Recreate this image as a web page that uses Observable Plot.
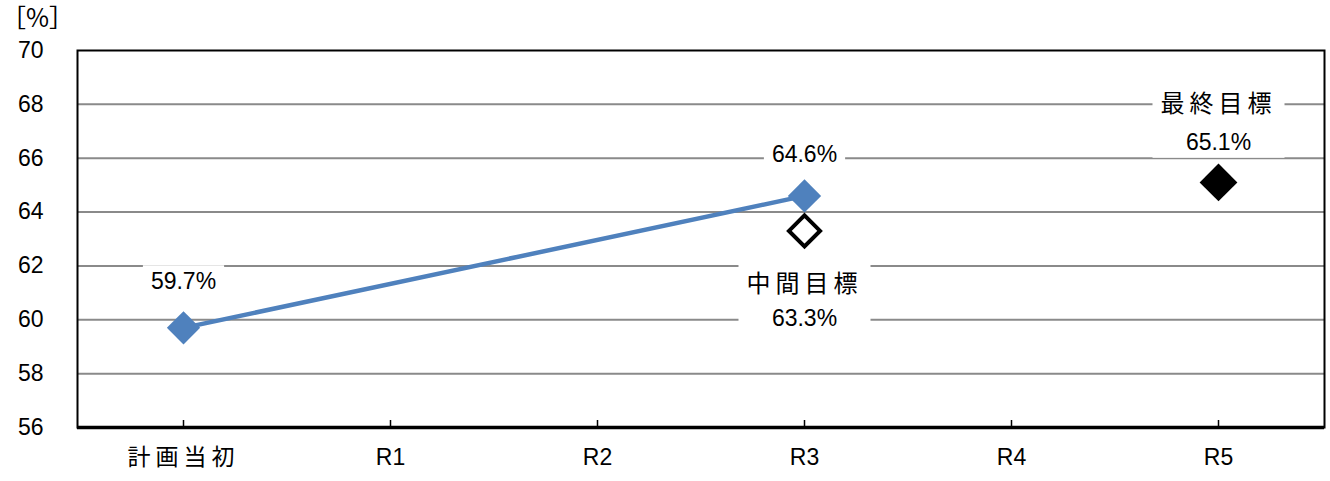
<!DOCTYPE html>
<html><head><meta charset="utf-8">
<script src="https://cdn.jsdelivr.net/npm/d3@7"></script>
<script src="https://cdn.jsdelivr.net/npm/@observablehq/plot@0.6"></script>
<style>
html,body{margin:0;padding:0;background:#fff;}
</style></head><body><div id="chart"></div>
<script>
// ---- data ----
const categories = ["計画当初", "R1", "R2", "R3", "R4", "R5"];
const actualCats = ["計画当初", "R3"];
const actualValues = [59.7, 64.6];
const midCats = ["R3"];
const midValues = [63.3];
const midName = "中間目標";
const finalCats = ["R5"];
const finalValues = [65.1];
const finalName = "最終目標";
const yTicks = [56, 58, 60, 62, 64, 66, 68, 70];
const gridValues = [58, 60, 62, 64, 66, 68];
const unitLabel = "［%］";

const actual = actualCats.map((c, i) => ({cat: c, value: actualValues[i]}));
const mid = midCats.map((c, i) => ({cat: c, value: midValues[i]}));
const fin = finalCats.map((c, i) => ({cat: c, value: finalValues[i]}));
const fmt = v => d3.format(".1f")(v) + "%";

const latin = "'Liberation Sans', Arial, 'Noto Sans CJK JP', sans-serif";
const cjk = "'Noto Sans CJK JP', sans-serif";
const blue = "#4F81BD";

const chart = Plot.plot({
  width: 1330, height: 481,
  marginLeft: 77, marginRight: 6, marginTop: 50, marginBottom: 54,
  x: {type: "point", domain: categories, padding: 0.5, label: null},
  y: {domain: [56, 70], label: null},
  style: {fontFamily: latin, fontSize: "23px", color: "#000", background: "#fff", overflow: "visible"},
  marks: [
    Plot.ruleY(gridValues, {stroke: "#8a8a8a", strokeWidth: 2}),
    Plot.frame({stroke: "#000", strokeWidth: 2}),
    Plot.ruleY([56], {stroke: "#000", strokeWidth: 3.5}),
    Plot.ruleX(categories, {y1: 56, y2: 56.26, stroke: "#000", strokeWidth: 1.5}),
    Plot.axisY(yTicks, {tickSize: 0, tickPadding: 34, fontSize: 23, label: null}),
    Plot.axisX(categories, {tickSize: 0, tickPadding: 21, fontSize: 23, label: null}),
    Plot.text([unitLabel], {text: d => d, frameAnchor: "top-left", lineAnchor: "middle", dx: -40, dy: -32, fontSize: 25, fontFamily: cjk, textAnchor: "middle"}),
    Plot.line(actual, {x: "cat", y: "value", stroke: blue, strokeWidth: 4.5}),
    Plot.dot(actual, {x: "cat", y: "value", symbol: "diamond2", r: 15, fill: blue, stroke: "none"}),
    Plot.dot(mid, {x: "cat", y: "value", symbol: "diamond2", r: 14, fill: "#fff", stroke: "#000", strokeWidth: 4}),
    Plot.dot(fin, {x: "cat", y: "value", symbol: "diamond2", r: 17, fill: "#000", stroke: "none"}),
    Plot.text([actual[0]], {x: "cat", y: "value", text: d => fmt(d.value), dy: -46, fontSize: 23}),
    Plot.text([actual[1]], {x: "cat", y: "value", text: d => fmt(d.value), dy: -41, fontSize: 23}),
    Plot.text(mid, {x: "cat", y: "value", text: () => midName, dy: 53, fontSize: 24, fontFamily: cjk}),
    Plot.text(mid, {x: "cat", y: "value", text: d => fmt(d.value), dy: 88, fontSize: 23}),
    Plot.text(fin, {x: "cat", y: "value", text: () => finalName, dy: -78, fontSize: 24, fontFamily: cjk}),
    Plot.text(fin, {x: "cat", y: "value", text: d => fmt(d.value), dy: -40, fontSize: 23})
  ]
});
document.getElementById("chart").append(chart);

// letter spacing for kanji labels
chart.querySelectorAll("text").forEach(t => {
  if (/[\u4e00-\u9fff]/.test(t.textContent)) t.style.letterSpacing = "5px";
});

// white boxes behind data labels (derived from the rendered label texts)
const labelGroups = [
  [fmt(actualValues[0])],
  [fmt(actualValues[1])],
  [midName, fmt(midValues[0])],
  [finalName, fmt(finalValues[0])]
];
const sr = chart.getBoundingClientRect();
const allTexts = Array.from(chart.querySelectorAll("text"));
let firstG = null;
const used = new Set();
const rects = [];
labelGroups.forEach(group => {
  const b = {x0: Infinity, y0: Infinity, x1: -Infinity, y1: -Infinity};
  group.forEach(s => {
    const t = allTexts.find(e => e.textContent === s && !used.has(e));
    if (!t) return;
    used.add(t);
    if (!firstG) firstG = t.parentNode;
    const r = t.getBoundingClientRect();
    b.x0 = Math.min(b.x0, r.left - sr.left); b.x1 = Math.max(b.x1, r.right - sr.left);
    b.y0 = Math.min(b.y0, r.top - sr.top); b.y1 = Math.max(b.y1, r.bottom - sr.top);
  });
  if (isFinite(b.x0)) rects.push(b);
});
if (firstG) {
  rects.forEach(b => {
    const rect = document.createElementNS("http://www.w3.org/2000/svg", "rect");
    rect.setAttribute("x", b.x0 - 8);
    rect.setAttribute("y", b.y0 - 3);
    rect.setAttribute("width", b.x1 - b.x0 + 16);
    rect.setAttribute("height", b.y1 - b.y0 + 6);
    rect.setAttribute("fill", "#fff");
    firstG.parentNode.insertBefore(rect, firstG);
  });
}
</script>
</body></html>
